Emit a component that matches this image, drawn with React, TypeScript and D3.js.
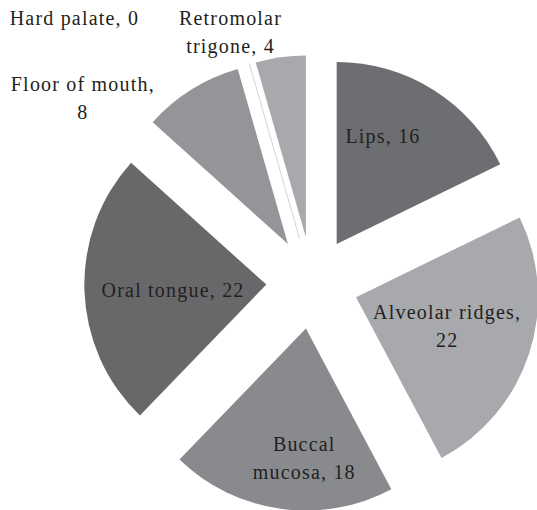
import { useEffect } from 'react';
import * as d3 from 'd3';

const sites = ['Lips', 'Alveolar ridges', 'Buccal mucosa', 'Oral tongue', 'Floor of mouth', 'Hard palate', 'Retromolar trigone'];
const counts = [16, 22, 18, 22, 8, 0, 4];

// label text lines as printed in the figure
const labelLines: string[][] = [
  ['Lips, 16'],
  ['Alveolar ridges,', '22'],
  ['Buccal', 'mucosa, 18'],
  ['Oral tongue, 22'],
  ['Floor of mouth,', '8'],
  ['Hard palate, 0'],
  ['Retromolar', 'trigone, 4'],
];

const FILLS: Record<string, string> = {
  'Lips': '#6d6e71',
  'Alveolar ridges': '#a7a9ac',
  'Buccal mucosa': '#898a8d',
  'Oral tongue': '#68686b',
  'Floor of mouth': '#949598',
  'Hard palate': '#d1d3d4',
  'Retromolar trigone': '#a7a9ac',
};

// label placement, polar from each exploded slice's own apex: [angle deg, radius px]
const LABEL_POLAR: Record<string, [number, number]> = {
  'Lips': [23, 117],
  'Alveolar ridges': [107.7, 95],
  'Buccal mucosa': [181, 129],
  'Oral tongue': [267, 94],
  'Floor of mouth': [305.3, 252],
  'Hard palate': [314.4, 316],
  'Retromolar trigone': [339.7, 219],
};

const W = 537, H = 510;
const CX = 312.3, CY = 283, R = 182, EXPLODE = 46;
const LINE_H = 28;

export default function App() {
  useEffect(() => {
    document.body.style.margin = '0';
  }, []);

  const data = sites.map((s, i) => ({ site: s, value: counts[i], lines: labelLines[i] }));
  const pie = d3.pie<typeof data[number]>().value(d => d.value).sort(null).startAngle(0).endAngle(2 * Math.PI);
  const arcs = pie(data);
  const arc = d3.arc<d3.PieArcDatum<typeof data[number]>>().innerRadius(0).outerRadius(R);

  return (
    <svg width={W} height={H} viewBox={`0 0 ${W} ${H}`} style={{ display: 'block' }}>
      <rect width={W} height={H} fill="#fff" />
      <g transform={`translate(${CX},${CY})`}>
        {arcs.map(a => {
          const mid = (a.startAngle + a.endAngle) / 2;
          const [ox, oy] = d3.pointRadial(mid, EXPLODE);
          const [ang, rr] = LABEL_POLAR[a.data.site];
          const [lx, ly] = d3.pointRadial((ang * Math.PI) / 180, rr);
          const [ex, ey] = d3.pointRadial(mid, R);
          const n = a.data.lines.length;
          return (
            <g key={a.data.site} transform={`translate(${ox},${oy})`}>
              {a.data.value > 0 ? (
                <path d={arc(a) ?? ''} fill={FILLS[a.data.site]} />
              ) : (
                <line x1={0} y1={0} x2={ex} y2={ey} stroke={FILLS[a.data.site]} strokeWidth={1} />
              )}
              <text
                x={lx} y={ly}
                textAnchor="middle"
                style={{ fontFamily: '"Liberation Serif", serif', fontSize: 20, letterSpacing: 1.2 }}
                fill="#231f20"
              >
                {a.data.lines.map((t, i) => (
                  <tspan key={i} x={lx + 0.6} y={ly + (i - (n - 1) / 2) * LINE_H} dy="0.35em">{t}</tspan>
                ))}
              </text>
            </g>
          );
        })}
      </g>
    </svg>
  );
}
